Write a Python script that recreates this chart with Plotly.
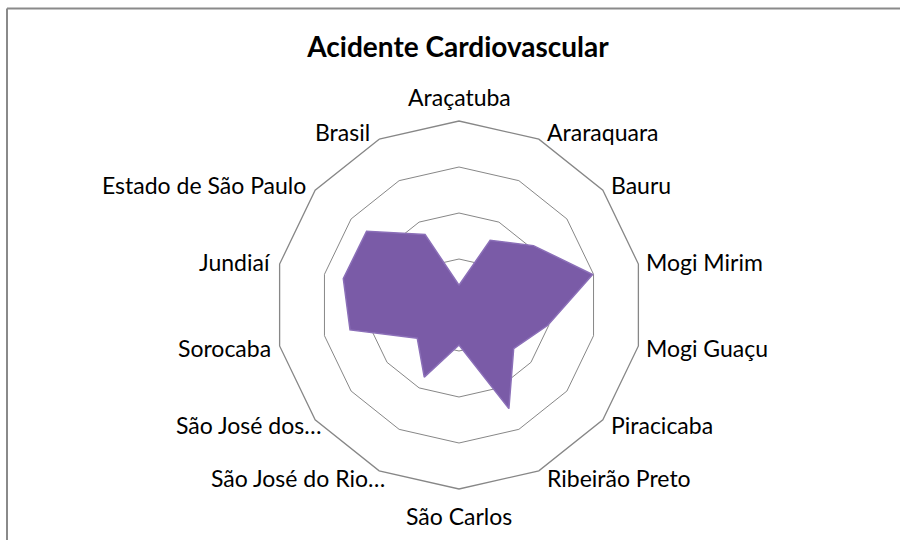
import math
import plotly.graph_objects as go

categories = ["Araçatuba", "Araraquara", "Bauru", "Mogi Mirim", "Mogi Guaçu",
              "Piracicaba", "Ribeirão Preto", "São Carlos", "São José do Rio…",
              "São José dos…", "Sorocaba", "Jundiaí", "Estado de São Paulo", "Brasil"]
values = [0.43, 1.56, 2.07, 2.98, 1.98, 1.52, 2.50, 0.87, 1.74, 1.16, 2.43, 2.58, 2.57, 1.70]
title_text = "Acidente Cardiovascular"

cx, cy, R = 459, 305, 184
W, H = 900, 540
FONT = "Lato, Carlito, sans-serif"

fig = go.Figure()
fig.add_trace(go.Scatterpolar(
    r=values + values[:1],
    theta=categories + categories[:1],
    mode="lines",
    fill="toself",
    fillcolor="#7a5ba7",
    line=dict(color="#8b6fb8", width=1.5),
    hoverinfo="skip",
))

# category labels placed Excel-style around the outer ring
annotations = []
n = len(categories)
for i, lab in enumerate(categories):
    th = 2 * math.pi * i / n
    s, c = math.sin(th), math.cos(th)
    vx, vy = cx + R * s, cy - R * c
    if abs(s) < 1e-6:
        x = vx
        y = vy - 24 if c > 0 else vy + 27
        xa = "center"
    else:
        y = vy - 8 * c
        if s > 0:
            x, xa = vx + 6, "left"
        else:
            x, xa = vx - 7, "right"
            if lab.endswith("…"):
                x += 15
    annotations.append(dict(text=lab, x=x / W, y=1 - y / H, xref="paper", yref="paper",
                            xanchor=xa, yanchor="middle", showarrow=False,
                            font=dict(family=FONT, size=23, color="#000000")))

fig.update_layout(
    width=W, height=H,
    margin=dict(l=0, r=0, t=0, b=0),
    paper_bgcolor="white",
    showlegend=False,
    font=dict(family=FONT, color="#000000", size=23),
    title=dict(text="<b>" + title_text + "</b>", x=458 / W, xanchor="center",
               y=1 - 47 / H, yanchor="middle",
               font=dict(size=28, family=FONT, color="#000000")),
    polar=dict(
        domain=dict(x=[(cx - R) / W, (cx + R) / W],
                    y=[(H - cy - R) / H, (H - cy + R) / H]),
        bgcolor="white",
        gridshape="linear",
        radialaxis=dict(range=[0, 4], dtick=1, tick0=0, showticklabels=False,
                        ticks="", showline=False, gridcolor="#878787", gridwidth=1.3),
        angularaxis=dict(direction="clockwise", rotation=90, showgrid=False,
                         showline=True, linecolor="#878787", linewidth=1.3,
                         ticks="", showticklabels=False),
    ),
    annotations=annotations,
    shapes=[
        dict(type="line", xref="paper", yref="paper", x0=7 / W, x1=1.02,
             y0=1 - 8.5 / H, y1=1 - 8.5 / H, line=dict(color="#8a8a8a", width=2)),
        dict(type="line", xref="paper", yref="paper", x0=7 / W, x1=7 / W,
             y0=-0.02, y1=1 - 8.5 / H, line=dict(color="#8a8a8a", width=2)),
    ],
)

fig.write_html("out.html", config={"displayModeBar": False},
               post_script="document.body.style.margin='0';")
